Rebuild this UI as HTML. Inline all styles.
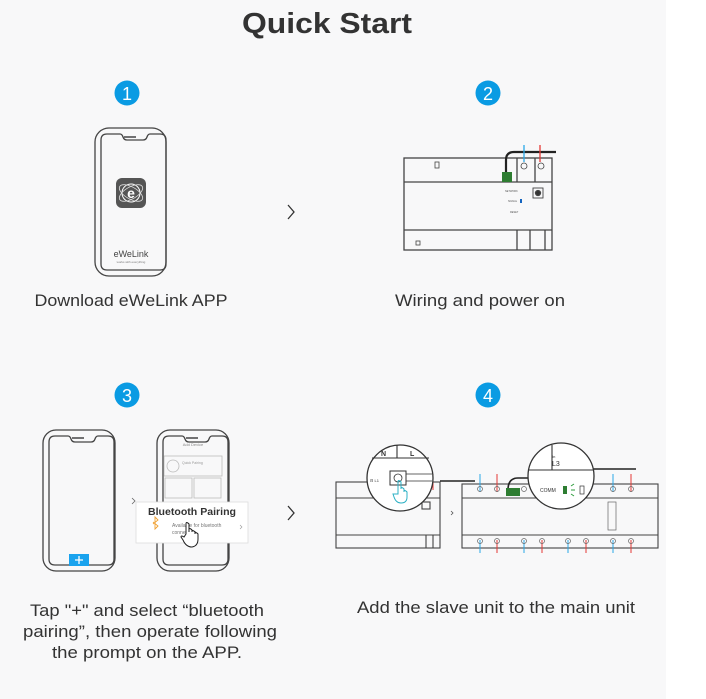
<!DOCTYPE html>
<html><head><meta charset="utf-8"><style>
html,body{margin:0;padding:0;background:#fff}
svg{display:block}
text{font-family:"Liberation Sans",sans-serif}
</style></head><body>
<svg width="706" height="699" viewBox="0 0 706 699" xmlns="http://www.w3.org/2000/svg">
<rect x="0" y="0" width="666" height="699" fill="#f8f8f9"/>
<text x="327" y="33" font-size="29" font-weight="bold" fill="#333" text-anchor="middle" textLength="170" lengthAdjust="spacingAndGlyphs">Quick Start</text>

<!-- circles -->
<g font-size="18" fill="#fff" text-anchor="middle">
<circle cx="127" cy="93" r="12.5" fill="#0a9be3"/><text x="127" y="100">1</text>
<circle cx="488" cy="93" r="12.5" fill="#0a9be3"/><text x="488" y="100">2</text>
<circle cx="127" cy="395" r="12.5" fill="#0a9be3"/><text x="127" y="402">3</text>
<circle cx="488" cy="395" r="12.5" fill="#0a9be3"/><text x="488" y="402">4</text>
</g>

<!-- phone 1 -->
<g fill="none" stroke="#444" stroke-width="1.3">
<rect x="95" y="128" width="71" height="148" rx="14"/>
<path d="M101 140 q0 -6 6 -6 h13 q2 0 3 3 q1 3 4 3 h16 q3 0 4 -3 q1 -3 3 -3 h10 q6 0 6 6 v124 q0 6 -6 6 h-53 q-6 0 -6 -6 z"/>
<line x1="124" y1="137" x2="136" y2="137" stroke-width="1.5"/>
</g>
<rect x="116" y="178" width="30" height="30" rx="6" fill="#555"/>
<circle cx="131" cy="193" r="9" fill="none" stroke="#fff" stroke-width="1"/>
<ellipse cx="131" cy="193" rx="13" ry="6" fill="none" stroke="#ddd" stroke-width="0.8" transform="rotate(30 131 193)"/>
<ellipse cx="131" cy="193" rx="13" ry="6" fill="none" stroke="#ddd" stroke-width="0.8" transform="rotate(-30 131 193)"/>
<text x="131" y="198" font-size="14" font-weight="bold" fill="#fff" text-anchor="middle">e</text>
<text x="131" y="257" font-size="9" fill="#444" text-anchor="middle">eWeLink</text>
<text x="131" y="263" font-size="3" fill="#777" text-anchor="middle">works with everything</text>

<!-- chevrons -->
<path d="M288 205 l6 7 l-6 7" fill="none" stroke="#333" stroke-width="1.3"/>
<path d="M288 506 l6 7 l-6 7" fill="none" stroke="#333" stroke-width="1.3"/>

<text x="131" y="306" font-size="16.5" fill="#333" text-anchor="middle" textLength="193" lengthAdjust="spacingAndGlyphs">Download eWeLink APP</text>
<text x="480" y="306" font-size="16.5" fill="#333" text-anchor="middle" textLength="170" lengthAdjust="spacingAndGlyphs">Wiring and power on</text>

<!-- device 2 -->
<g fill="none" stroke="#444" stroke-width="1.3">
<rect x="404" y="158" width="148" height="92"/>
<line x1="404" y1="182" x2="552" y2="182"/>
<line x1="404" y1="230" x2="552" y2="230"/>
<line x1="517" y1="158" x2="517" y2="182"/>
<line x1="535" y1="158" x2="535" y2="182"/>
<line x1="517" y1="230" x2="517" y2="250"/>
<line x1="530" y1="230" x2="530" y2="250"/>
<line x1="545" y1="230" x2="545" y2="250"/>
<rect x="435" y="162" width="4" height="6" stroke-width="0.8"/>
<rect x="416" y="241" width="4" height="4" stroke-width="0.8"/>
<circle cx="524" cy="166" r="3" stroke-width="0.8"/>
<circle cx="541" cy="166" r="3" stroke-width="0.8"/>
<rect x="533" y="188" width="10" height="10" stroke-width="0.9"/>
<circle cx="538" cy="193" r="2.5" fill="#333"/>
</g>
<path d="M506 174 v-14 q0 -8 8 -8 h42" fill="none" stroke="#222" stroke-width="2.2"/>
<line x1="524" y1="145" x2="524" y2="162" stroke="#2aa7e8" stroke-width="1.3"/>
<line x1="540" y1="145" x2="540" y2="162" stroke="#e53935" stroke-width="1.3"/>
<rect x="502" y="172" width="10" height="10" fill="#2e7d32"/>
<g font-size="2.5" fill="#555"><text x="505" y="192">NETWORK</text><text x="508" y="202">SIGNAL</text><text x="510" y="213">RESET</text></g>
<rect x="520" y="199" width="2" height="4" fill="#1565c0"/>

<!-- step 3 phones -->
<g fill="none" stroke="#444" stroke-width="1.3">
<rect x="43" y="430" width="72" height="141" rx="13"/>
<path d="M49 442 q0 -6 6 -6 h13 q2 0 3 3 q1 3 4 3 h16 q3 0 4 -3 q1 -3 3 -3 h10 q6 0 6 6 v117 q0 6 -6 6 h-53 q-6 0 -6 -6 z"/>
<line x1="72" y1="438" x2="84" y2="438" stroke-width="1.5"/>
<rect x="157" y="430" width="72" height="141" rx="13"/>
<path d="M163 442 q0 -6 6 -6 h13 q2 0 3 3 q1 3 4 3 h16 q3 0 4 -3 q1 -3 3 -3 h10 q6 0 6 6 v117 q0 6 -6 6 h-53 q-6 0 -6 -6 z"/>
<line x1="186" y1="438" x2="198" y2="438" stroke-width="1.5"/>
</g>
<rect x="69" y="554" width="20" height="12" fill="#1aa3ee"/>
<path d="M79 556 v8 M75 560 h8" stroke="#fff" stroke-width="1.3"/>
<g fill="none" stroke="#bbb" stroke-width="0.8">
<rect x="164" y="456" width="58" height="20"/>
<circle cx="173" cy="466" r="6"/>
<rect x="165" y="478" width="27" height="20"/>
<rect x="194" y="478" width="27" height="20"/>
</g>
<text x="193" y="446" font-size="4" fill="#888" text-anchor="middle">Add Device</text>
<text x="182" y="464" font-size="3.5" fill="#999">Quick Pairing</text>
<path d="M132 498 l3 3 l-3 3" fill="none" stroke="#666" stroke-width="0.8"/>
<rect x="136" y="502" width="112" height="41" fill="#fff" stroke="#ddd" stroke-width="0.8"/>
<text x="192" y="515" font-size="10" font-weight="bold" fill="#333" text-anchor="middle" textLength="88" lengthAdjust="spacingAndGlyphs">Bluetooth Pairing</text>
<text x="172" y="527" font-size="5" fill="#777">Available for bluetooth</text>
<text x="172" y="534" font-size="5" fill="#777">connection</text>
<path d="M153 522 l5 4 l-3 3 v-12 l3 3 l-5 4" fill="none" stroke="#f0a030" stroke-width="0.9"/>
<path d="M240 525 l2 2 l-2 2" fill="none" stroke="#999" stroke-width="0.6"/>
<path d="M186 534 v-10 q0 -3 3 0 v8 v-2 q0 -3 3 0 v2 q0 -3 3 0 v2 q0 -3 3 0 v5 q0 7 -6 8 q-6 0 -9 -7 l-2 -3 q0 -2 3 0 z" fill="#fff" stroke="#222" stroke-width="1"/>

<g font-size="16.5" fill="#333" text-anchor="middle">
<text x="147" y="616" textLength="234" lengthAdjust="spacingAndGlyphs">Tap "+" and select “bluetooth</text>
<text x="150" y="637" textLength="254" lengthAdjust="spacingAndGlyphs">pairing”, then operate following</text>
<text x="147" y="658" textLength="190" lengthAdjust="spacingAndGlyphs">the prompt on the APP.</text>
<text x="496" y="613" textLength="278" lengthAdjust="spacingAndGlyphs">Add the slave unit to the main unit</text>
</g>

<!-- step 4 -->
<g fill="none" stroke="#444" stroke-width="1.1">
<rect x="336" y="482" width="104" height="66"/>
<line x1="336" y1="498" x2="440" y2="498"/>
<line x1="336" y1="535" x2="440" y2="535"/>
<line x1="426" y1="535" x2="426" y2="548"/>
<line x1="433" y1="535" x2="433" y2="548"/>
<rect x="462" y="484" width="196" height="64"/>
<line x1="462" y1="498" x2="658" y2="498"/>
<line x1="462" y1="535" x2="658" y2="535"/>
<rect x="422" y="502" width="8" height="7"/>
</g>
<path d="M440 481 h35 M532 481 v-8 q0 -4 4 -4 h100" fill="none" stroke="#222" stroke-width="1.6"/>
<path d="M508 490 q0 -12 10 -12 h12" fill="none" stroke="#222" stroke-width="1.6"/>
<rect x="506" y="488" width="14" height="8" fill="#2e7d32"/>
<g stroke-width="1">
<line x1="480" y1="474" x2="480" y2="492" stroke="#2aa7e8"/>
<line x1="497" y1="474" x2="497" y2="492" stroke="#e53935"/>
<line x1="613" y1="474" x2="613" y2="492" stroke="#2aa7e8"/>
<line x1="631" y1="474" x2="631" y2="492" stroke="#e53935"/>
<line x1="480" y1="540" x2="480" y2="553" stroke="#2aa7e8"/>
<line x1="497" y1="540" x2="497" y2="553" stroke="#e53935"/>
<line x1="524" y1="540" x2="524" y2="553" stroke="#2aa7e8"/>
<line x1="542" y1="540" x2="542" y2="553" stroke="#e53935"/>
<line x1="568" y1="540" x2="568" y2="553" stroke="#2aa7e8"/>
<line x1="586" y1="540" x2="586" y2="553" stroke="#e53935"/>
<line x1="613" y1="540" x2="613" y2="553" stroke="#2aa7e8"/>
<line x1="631" y1="540" x2="631" y2="553" stroke="#e53935"/>
<line x1="433" y1="474" x2="433" y2="490" stroke="#e53935"/>
</g>
<g fill="none" stroke="#666" stroke-width="0.7">
<circle cx="480" cy="489" r="2.5"/><circle cx="497" cy="489" r="2.5"/><circle cx="524" cy="489" r="2.5"/>
<circle cx="613" cy="489" r="2.5"/><circle cx="631" cy="489" r="2.5"/>
<circle cx="480" cy="541" r="2.5"/><circle cx="497" cy="541" r="2.5"/><circle cx="524" cy="541" r="2.5"/>
<circle cx="542" cy="541" r="2.5"/><circle cx="568" cy="541" r="2.5"/><circle cx="586" cy="541" r="2.5"/>
<circle cx="613" cy="541" r="2.5"/><circle cx="631" cy="541" r="2.5"/>
<rect x="608" y="502" width="8" height="28"/>
</g>
<path d="M451 511 l2 2 l-2 2" fill="none" stroke="#555" stroke-width="0.8"/>
<!-- magnifier circles -->
<circle cx="400" cy="478" r="33" fill="#fff" stroke="#333" stroke-width="1.3"/>
<path d="M372 458 h57 M397 445 v13" stroke="#333" stroke-width="1.1" fill="none"/>
<text x="381" y="456" font-size="7" font-weight="bold" fill="#333">N</text>
<text x="410" y="456" font-size="7" font-weight="bold" fill="#333">L</text>
<rect x="390" y="471" width="16" height="14" fill="none" stroke="#333" stroke-width="1"/>
<circle cx="398" cy="478" r="4" fill="none" stroke="#333" stroke-width="0.8"/>
<path d="M406 474 h26 M406 481 h26" stroke="#333" stroke-width="0.8"/>
<text x="370" y="482" font-size="4" fill="#333">⊟ L1</text>
<path d="M398 494 v-12 q0 -3 3 0 v7 q0 -3 3 0 v3 q0 -3 3 0 v5 q0 6 -6 6 q-5 0 -7 -6 l-1 -3 z" fill="none" stroke="#2bb0c4" stroke-width="1"/>
<circle cx="561" cy="476" r="33" fill="#fff" stroke="#333" stroke-width="1.3"/>
<path d="M529 470 h64 M552 445 v25" stroke="#333" stroke-width="1.1" fill="none"/>
<text x="552" y="458" font-size="4" fill="#333">In</text>
<text x="552" y="466" font-size="7" fill="#333">L3</text>
<text x="540" y="492" font-size="5" fill="#333">COMM</text>
<rect x="563" y="486" width="4" height="8" fill="#2e7d32"/>
<path d="M571 486 l3 -2 M571 490 h4 M571 494 l3 2" stroke="#2e9c3e" stroke-width="1"/>
<rect x="580" y="486" width="4" height="8" fill="none" stroke="#333" stroke-width="0.7"/>
</svg>
</body></html>
